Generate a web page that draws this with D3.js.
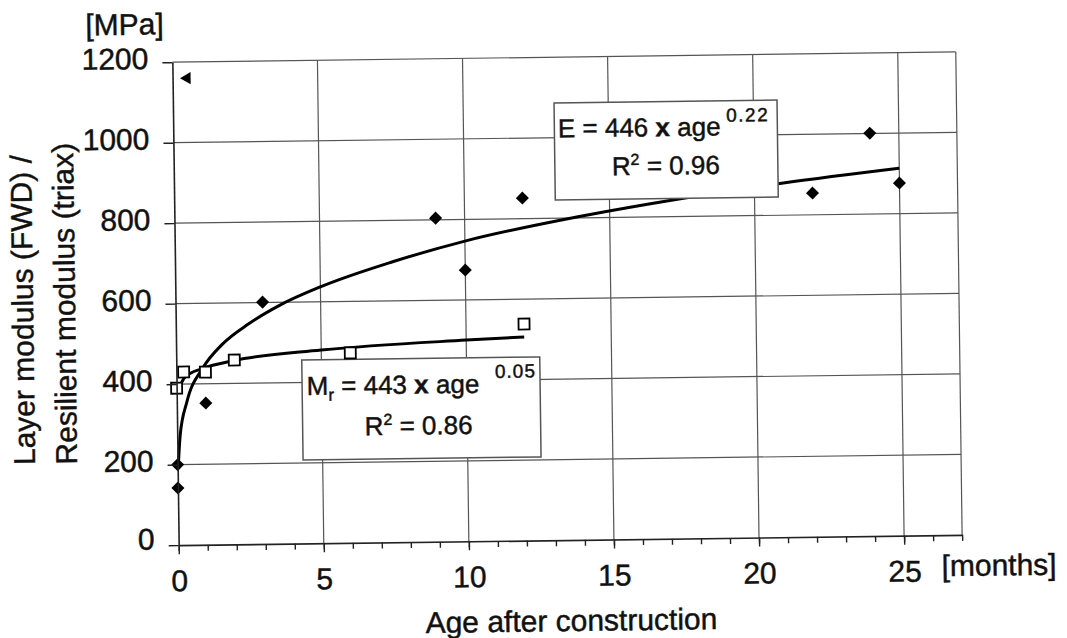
<!DOCTYPE html>
<html>
<head>
<meta charset="utf-8">
<script src="https://cdn.jsdelivr.net/npm/d3@7"></script>
<style>
body { margin: 0; background: #fff; }
text { font-family: "Liberation Sans", Arial, sans-serif; fill: #111; stroke: #111; stroke-width: 0.45px; }
</style>
</head>
<body>
<script>
// Layer modulus from FWD (filled diamonds)
var fwdAge = [0, 0, 1, 3, 9, 10, 12, 22, 24, 25];
var fwdModulus = [142, 200, 352, 601, 804, 674, 851, 854, 1001, 876];

// Resilient modulus from triax (open squares)
var triaxAge = [0, 0.25, 1, 2, 6, 12];
var triaxModulus = [390, 430, 429, 458, 472, 538];

// single point drawn as a left pointing triangle
var extraAge = [0.5];
var extraModulus = [1160];

// power trend lines
var fwdTrendAge = [0.03, 0.1, 0.35, 0.9, 1.6, 2.5, 3.6, 5, 7.5, 10, 14, 17.5, 21, 25];
var fwdTrendModulus = [204, 272, 356, 438, 498, 547, 593, 637, 697, 746, 804, 845, 880, 913];
var triaxTrendAge = [0.05, 0.3, 0.9, 2, 5, 10, 12];
var triaxTrendModulus = [385, 418, 438, 457, 480, 500, 506];

// axes
var xMajorTicks = [0, 5, 10, 15, 20, 25];
var xMinorTicks = d3.range(0, 28);
var yTicks = [0, 200, 400, 600, 800, 1000, 1200];

// Define Margin
var margin = {left: 175.5, right: 108, top: 57, bottom: 98},
    width = 1067 - margin.left - margin.right,
    height = 638 - margin.top - margin.bottom;

// Define SVG (the scan is tilted a little, so the whole figure is turned)
var root = d3.select("body")
    .append("svg")
    .attr("width", 1067)
    .attr("height", 638)
    .append("g")
    .attr("transform", "rotate(-0.75, 570, 300)");

var svg = root.append("g")
    .attr("transform", `translate(${margin.left}, ${margin.top})`);

// Scales
var x = d3.scaleLinear().domain([0, 27]).range([0, width]);
var y = d3.scaleLinear().domain([0, 1200]).range([height, 0]);

// Grid lines
svg.append("g")
    .selectAll("line")
    .data(xMajorTicks.slice(1).concat([27]))
    .enter().append("line")
    .attr("x1", d => x(d)).attr("x2", d => x(d))
    .attr("y1", 0).attr("y2", height)
    .attr("stroke", "#555")
    .attr("stroke-width", 1.2);

svg.append("g")
    .selectAll("line")
    .data(yTicks.slice(1))
    .enter().append("line")
    .attr("x1", 0).attr("x2", width)
    .attr("y1", d => y(d)).attr("y2", d => y(d))
    .attr("stroke", "#555")
    .attr("stroke-width", 1.2);

// Trend lines
var line = d3.line()
    .x(d => x(d[0]))
    .y(d => y(d[1]))
    .curve(d3.curveMonotoneX);

svg.append("path")
    .datum(d3.zip(fwdTrendAge, fwdTrendModulus))
    .attr("d", line)
    .attr("fill", "none")
    .attr("stroke", "#000")
    .attr("stroke-width", 3);

svg.append("path")
    .datum(d3.zip(triaxTrendAge, triaxTrendModulus))
    .attr("d", line)
    .attr("fill", "none")
    .attr("stroke", "#000")
    .attr("stroke-width", 3);

// Equation boxes
function eqBox(bx, by, bw, bh) {
    var b = svg.append("g").attr("transform", `translate(${bx - margin.left}, ${by - margin.top})`);
    b.append("rect")
        .attr("width", bw).attr("height", bh)
        .attr("fill", "#fff")
        .attr("stroke", "#555")
        .attr("stroke-width", 1.5);
    return b;
}

var boxE = eqBox(556.6, 102.8, 223, 97);
var t1 = boxE.append("text").attr("x", 3.5).attr("y", 34.5).attr("font-size", 26);
t1.append("tspan").text("E = 446 ");
t1.append("tspan").attr("font-weight", "bold").text("x");
t1.append("tspan").text(" age");
boxE.append("text").attr("x", 172).attr("y", 21).attr("font-size", 19)
    .attr("letter-spacing", 1.5).text("0.22");
var t2 = boxE.append("text").attr("x", 57).attr("y", 73).attr("font-size", 26);
t2.append("tspan").text("R");
t2.append("tspan").attr("font-size", 16).attr("dy", -10).text("2");
t2.append("tspan").attr("dy", 10).text(" = 0.96");

var boxM = eqBox(301, 356.5, 238, 100);
var t3 = boxM.append("text").attr("x", 4.5).attr("y", 35).attr("font-size", 26);
t3.append("tspan").text("M");
t3.append("tspan").attr("font-size", 17).attr("dy", 6).text("r");
t3.append("tspan").attr("dy", -6).text(" = 443 ");
t3.append("tspan").attr("font-weight", "bold").text("x");
t3.append("tspan").text(" age");
boxM.append("text").attr("x", 193).attr("y", 20.5).attr("font-size", 19)
    .attr("letter-spacing", 1).text("0.05");
var t4 = boxM.append("text").attr("x", 62).attr("y", 76).attr("font-size", 26);
t4.append("tspan").text("R");
t4.append("tspan").attr("font-size", 16).attr("dy", -10).text("2");
t4.append("tspan").attr("dy", 10).text(" = 0.86");

// Markers
var diamond = d3.symbol().type(d3.symbolSquare).size(85);
svg.append("g")
    .selectAll("path")
    .data(d3.zip(fwdAge, fwdModulus))
    .enter().append("path")
    .attr("d", diamond)
    .attr("transform", d => `translate(${x(d[0])}, ${y(d[1])}) rotate(45)`)
    .attr("fill", "#000");

var square = d3.symbol().type(d3.symbolSquare).size(121);
svg.append("g")
    .selectAll("path")
    .data(d3.zip(triaxAge, triaxModulus))
    .enter().append("path")
    .attr("d", square)
    .attr("transform", d => `translate(${x(d[0])}, ${y(d[1])})`)
    .attr("fill", "#fff")
    .attr("stroke", "#000")
    .attr("stroke-width", 1.8);

var triangle = d3.symbol().type(d3.symbolTriangle).size(65);
svg.append("g")
    .selectAll("path")
    .data(d3.zip(extraAge, extraModulus))
    .enter().append("path")
    .attr("d", triangle)
    .attr("transform", d => `translate(${x(d[0])}, ${y(d[1])}) rotate(-90)`)
    .attr("fill", "#000");

// Axes
var xMinor = svg.append("g")
    .attr("transform", `translate(0, ${height})`)
    .call(d3.axisBottom(x).tickValues(xMinorTicks).tickSize(6).tickFormat(""));
xMinor.select(".domain").remove();

var xAxis = svg.append("g")
    .attr("transform", `translate(0, ${height})`)
    .call(d3.axisBottom(x).tickValues(xMajorTicks).tickSize(9).tickSizeOuter(0));
xAxis.selectAll("text")
    .attr("y", 46).attr("dy", 0)
    .attr("font-size", 30)
    .attr("font-family", "Liberation Sans, Arial, sans-serif")
    .attr("fill", "#111");

var yAxis = svg.append("g")
    .call(d3.axisLeft(y).tickValues(yTicks).tickFormat(d3.format("d"))
        .tickSize(10).tickPadding(14).tickSizeOuter(0));
yAxis.selectAll("text")
    .attr("dy", d => d === 0 ? "0.12em" : "0.2em")
    .attr("font-size", 30)
    .attr("font-family", "Liberation Sans, Arial, sans-serif")
    .attr("fill", "#111");

svg.selectAll(".domain").attr("stroke", "#222").attr("stroke-width", 1.6);
svg.selectAll(".tick line").attr("stroke", "#222").attr("stroke-width", 1.4);

// Axis labels
root.append("text")
    .attr("x", 89).attr("y", 29)
    .attr("font-size", 30)
    .text("[MPa]");

root.append("text")
    .attr("x", 938).attr("y", 581)
    .attr("font-size", 30)
    .text("[months]");

root.append("text")
    .attr("x", margin.left + width / 2).attr("y", 631)
    .attr("text-anchor", "middle")
    .attr("font-size", 30)
    .text("Age after construction");

root.append("text")
    .attr("transform", "translate(33, 458) rotate(-90)")
    .attr("font-size", 30)
    .text("Layer modulus (FWD) /");

root.append("text")
    .attr("transform", "translate(75, 458) rotate(-90)")
    .attr("font-size", 30)
    .text("Resilient modulus (triax)");
</script>
</body>
</html>
